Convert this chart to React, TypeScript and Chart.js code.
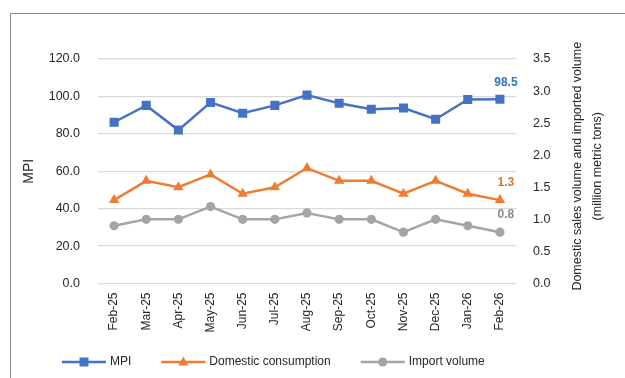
import React, { useEffect, useRef } from "react";
import { Chart, registerables } from "chart.js";

Chart.register(...registerables);

const months = ["Feb-25", "Mar-25", "Apr-25", "May-25", "Jun-25", "Jul-25", "Aug-25", "Sep-25", "Oct-25", "Nov-25", "Dec-25", "Jan-26", "Feb-26"];
const mpiValues = [86.2, 95.2, 82.0, 96.8, 91.0, 95.2, 100.7, 96.3, 93.1, 93.8, 87.8, 98.4, 98.5];
const domesticValues = [1.3, 1.6, 1.5, 1.7, 1.4, 1.5, 1.8, 1.6, 1.6, 1.4, 1.6, 1.4, 1.3];
const importValues = [0.9, 1.0, 1.0, 1.2, 1.0, 1.0, 1.1, 1.0, 1.0, 0.8, 1.0, 0.9, 0.8];
const seriesNames = ["MPI", "Domestic consumption", "Import volume"];
const seriesColors = ["#4472C4", "#ED7D31", "#A5A5A5"];
const labelColors = ["#2E75B6", "#E2732D", "#8C8C8C"];
const lastLabels = ["98.5", "1.3", "0.8"];
const leftTitle = "MPI";
const rightTitle = ["Domestic sales volume and imported volume", "(million metric tons)"];

const FONT = "'Liberation Sans', Arial, sans-serif";
const TEXT = "#262626";

const customPlugin = {
  id: "custom",
  beforeDraw(chart: any) {
    const ctx = chart.ctx;
    ctx.save();
    ctx.fillStyle = "#ffffff";
    ctx.fillRect(0, 0, chart.width, chart.height);
    ctx.strokeStyle = "#8E8E8E";
    ctx.lineWidth = 1;
    ctx.beginPath();
    ctx.moveTo(10.5, chart.height + 2);
    ctx.lineTo(10.5, 13.5);
    ctx.lineTo(chart.width + 2, 13.5);
    ctx.stroke();
    ctx.restore();
  },
  afterDatasetsDraw(chart: any) {
    const ctx = chart.ctx;
    chart.data.datasets.forEach((ds: any, i: number) => {
      const meta = chart.getDatasetMeta(i);
      const pt = meta.data[meta.data.length - 1];
      ctx.save();
      ctx.font = `bold 12px ${FONT}`;
      ctx.fillStyle = labelColors[i];
      ctx.textAlign = "center";
      ctx.textBaseline = "middle";
      ctx.fillText(lastLabels[i], pt.x + 6, pt.y - 17);
      ctx.restore();
    });
  },
  afterDraw(chart: any) {
    const ctx = chart.ctx;
    const area = chart.chartArea;
    const right = chart.scales.y1;
    ctx.save();
    ctx.font = `12.5px ${FONT}`;
    ctx.fillStyle = TEXT;
    ctx.textAlign = "center";
    ctx.textBaseline = "middle";
    const cy = (area.top + area.bottom) / 2 - 5;
    const x0 = right.left + 62;
    rightTitle.forEach((line, k) => {
      ctx.save();
      ctx.translate(x0 + k * 20, cy);
      ctx.rotate(-Math.PI / 2);
      ctx.fillText(line, 0, 0);
      ctx.restore();
    });
    ctx.restore();

    ctx.save();
    ctx.font = `12px ${FONT}`;
    const ly = 362;
    let x = 62;
    const lineLen = 44;
    chart.data.datasets.forEach((ds: any, i: number) => {
      const c = seriesColors[i];
      ctx.strokeStyle = c;
      ctx.fillStyle = c;
      ctx.lineWidth = 2.5;
      ctx.beginPath();
      ctx.moveTo(x, ly);
      ctx.lineTo(x + lineLen, ly);
      ctx.stroke();
      const mx = x + lineLen / 2;
      ctx.beginPath();
      if (i === 0) {
        ctx.rect(mx - 4.5, ly - 4.5, 9, 9);
      } else if (i === 1) {
        ctx.moveTo(mx, ly - 5.5);
        ctx.lineTo(mx + 5, ly + 3.5);
        ctx.lineTo(mx - 5, ly + 3.5);
        ctx.closePath();
      } else {
        ctx.arc(mx, ly, 4.5, 0, Math.PI * 2);
      }
      ctx.fill();
      ctx.fillStyle = TEXT;
      ctx.textAlign = "left";
      ctx.textBaseline = "middle";
      const tx = x + lineLen + 4;
      ctx.fillText(seriesNames[i], tx, ly);
      x = tx + ctx.measureText(seriesNames[i]).width + 30;
    });
    ctx.restore();
  },
};

export default function App() {
  const ref = useRef<HTMLCanvasElement | null>(null);
  useEffect(() => {
    if (!ref.current) return;
    const common = { borderWidth: 2.5, pointBorderWidth: 0, fill: false, tension: 0 };
    const chart = new Chart(ref.current, {
      type: "line",
      data: {
        labels: months,
        datasets: [
          { ...common, label: seriesNames[0], data: mpiValues, yAxisID: "y", borderColor: seriesColors[0], backgroundColor: seriesColors[0], pointStyle: "rect", pointRadius: 6.4 },
          { ...common, label: seriesNames[1], data: domesticValues, yAxisID: "y1", borderColor: seriesColors[1], backgroundColor: seriesColors[1], pointStyle: "triangle", pointRadius: 6 },
          { ...common, label: seriesNames[2], data: importValues, yAxisID: "y1", borderColor: seriesColors[2], backgroundColor: seriesColors[2], pointStyle: "circle", pointRadius: 4.6 },
        ],
      },
      options: {
        responsive: false,
        animation: false,
        devicePixelRatio: 1,
        layout: { padding: { left: 0, right: 0, top: 59, bottom: 34.5 } },
        plugins: { legend: { display: false }, tooltip: { enabled: false } },
        scales: {
          x: {
            offset: true,
            grid: { display: false, drawTicks: false },
            border: { display: false },
            ticks: { color: TEXT, font: { family: FONT, size: 12 }, minRotation: 90, maxRotation: 90, padding: 9, autoSkip: false },
            afterFit: (s: any) => { s.height = 60; },
          },
          y: {
            position: "left",
            min: 0,
            max: 120,
            ticks: { stepSize: 20, color: TEXT, font: { family: FONT, size: 12.5 }, padding: 18, callback: (v: any) => Number(v).toFixed(1) },
            grid: { color: "#D9D9D9", lineWidth: 1.3, drawTicks: false },
            border: { display: false },
            title: { display: true, text: leftTitle, color: TEXT, font: { family: FONT, size: 14 }, padding: { top: 21, bottom: 0 } },
            afterFit: (s: any) => { s.width = 98; },
          },
          y1: {
            position: "right",
            min: 0,
            max: 3.5,
            ticks: { stepSize: 0.5, color: TEXT, font: { family: FONT, size: 12.5 }, padding: 17, callback: (v: any) => Number(v).toFixed(1) },
            grid: { drawOnChartArea: false, drawTicks: false },
            border: { display: false },
            afterFit: (s: any) => { s.width = 109; },
          },
        },
      },
      plugins: [customPlugin],
    } as any);
    return () => chart.destroy();
  }, []);

  return (
    <div style={{ position: "fixed", left: 0, top: 0, width: 625, height: 378, background: "#fff", overflow: "hidden" }}>
      <canvas ref={ref} width={625} height={378} style={{ position: "absolute", left: 0, top: 0, width: 625, height: 378 }} />
    </div>
  );
}
